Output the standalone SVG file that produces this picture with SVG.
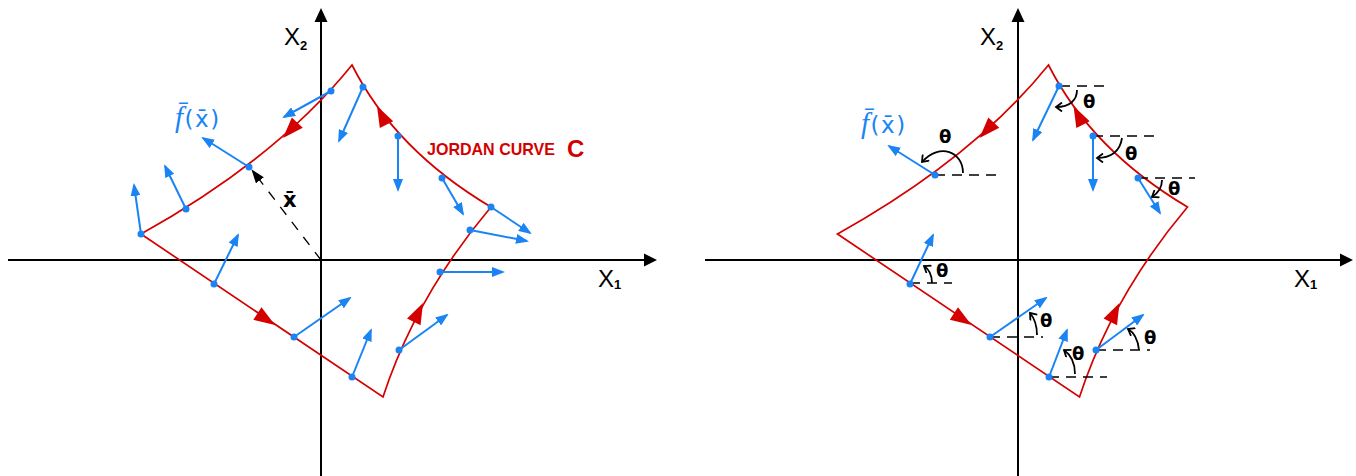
<svg xmlns="http://www.w3.org/2000/svg" xmlns:xlink="http://www.w3.org/1999/xlink" width="1356" height="476" viewBox="0 0 1356 476">
<style>
.axis{stroke:#000;stroke-width:2;fill:none}
.axhead{fill:#000}
.curve{stroke:#d40000;stroke-width:1.7;fill:none;stroke-linejoin:miter}
.redtri{fill:#d40000}
.vec{stroke:#1a84f4;stroke-width:2;fill:none;marker-end:url(#bh)}
.dot{fill:#1a84f4}
.ref{stroke:#000;stroke-width:1.3;stroke-dasharray:10 7;fill:none}
.arc{stroke:#000;stroke-width:1.8;fill:none;marker-end:url(#ch)}
.th{font-family:"DejaVu Sans",sans-serif;font-size:18px;font-weight:bold;fill:#000}
.axl{font-family:"Liberation Sans",Arial,sans-serif;font-size:24px;fill:#000}
.sub{font-size:13px;font-weight:bold}
.blbl{font-family:"DejaVu Sans",sans-serif;font-size:23px;fill:#1a84f4;letter-spacing:1.5px}
.fglyph{font-family:"Liberation Serif",serif;font-style:italic;font-size:29px}
.jordan{font-family:"Liberation Sans",Arial,sans-serif;font-weight:bold;font-size:17px;fill:#d40000}
.xbar{font-family:"DejaVu Sans",sans-serif;font-size:21px;font-weight:bold;fill:#000}
.xdash{stroke:#000;stroke-width:1.3;stroke-dasharray:10 9;fill:none;marker-end:url(#kh)}
</style>
<defs>
<marker id="bh" markerUnits="userSpaceOnUse" markerWidth="13" markerHeight="10" viewBox="0 0 13 10" refX="11" refY="5" orient="auto"><path d="M0,0 L13,5 L0,10 Z" fill="#1a84f4"/></marker>
<marker id="kh" markerUnits="userSpaceOnUse" markerWidth="14" markerHeight="10" viewBox="0 0 14 10" refX="13" refY="5" orient="auto"><path d="M0,0 L14,5 L0,10 Z" fill="#000"/></marker>
<marker id="ch" markerUnits="userSpaceOnUse" markerWidth="10" markerHeight="10" viewBox="-8 -5 10 10" refX="0" refY="0" orient="auto"><path d="M-6,-4.5 L0,0 L-6,4.5" fill="none" stroke="#000" stroke-width="1.8"/></marker>
<path id="rt" d="M0,0 L-21,-7.5 L-21,7.5 Z"/>
<path id="curveC" d="M352,65 Q277,158 141,234 L383,397 Q416,296 491,207 Q395,150 352,65 Z"/>
</defs>

<!-- LEFT PANEL -->
<g id="left-axes">
<line class="axis" x1="8" y1="260" x2="646" y2="260"/>
<path class="axhead" d="M657,260 L644,253.5 L644,266.5 Z"/>
<line class="axis" x1="321" y1="476" x2="321" y2="20"/>
<path class="axhead" d="M321,8 L314.5,22 L327.5,22 Z"/>
<text class="axl" x="284" y="45">X<tspan class="sub" dy="5">2</tspan></text>
<text class="axl" x="598" y="287">X<tspan class="sub" dy="2">1</tspan></text>
</g>

<g id="left-curve">
<use xlink:href="#curveC" class="curve"/>
<use xlink:href="#rt" class="redtri" transform="translate(283,138) rotate(133)"/>
<use xlink:href="#rt" class="redtri" transform="translate(275,325) rotate(33)"/>
<use xlink:href="#rt" class="redtri" transform="translate(423,303) rotate(-64)"/>
<use xlink:href="#rt" class="redtri" transform="translate(377,106) rotate(-117)"/>
<text class="jordan" x="427" y="155" textLength="128" lengthAdjust="spacingAndGlyphs">JORDAN CURVE</text>
<text class="jordan" x="567" y="157" style="font-size:24px">C</text>
</g>

<g id="left-connectors">
<line class="xdash" x1="321" y1="260" x2="252" y2="170"/>
<line class="vec" x1="331" y1="91" x2="284" y2="117"/>
<line class="vec" x1="363" y1="87" x2="339" y2="141"/>
<line class="vec" x1="398" y1="136" x2="398" y2="190"/>
<line class="vec" x1="442" y1="178" x2="463" y2="214"/>
<line class="vec" x1="491" y1="207" x2="530" y2="233"/>
<line class="vec" x1="470" y1="230" x2="527" y2="241"/>
<line class="vec" x1="440" y1="272" x2="503" y2="272"/>
<line class="vec" x1="399" y1="350" x2="447" y2="315"/>
<line class="vec" x1="352" y1="377" x2="371" y2="330"/>
<line class="vec" x1="294" y1="337" x2="350" y2="298"/>
<line class="vec" x1="214" y1="284" x2="238" y2="235"/>
<line class="vec" x1="186" y1="209" x2="165" y2="166"/>
<line class="vec" x1="141" y1="234" x2="134" y2="185"/>
<line class="vec" x1="249" y1="167" x2="203" y2="138"/>
</g>
<g id="left-dots">
<circle class="dot" cx="331" cy="91" r="3.5"/>
<circle class="dot" cx="363" cy="87" r="3.5"/>
<circle class="dot" cx="398" cy="136" r="3.5"/>
<circle class="dot" cx="442" cy="178" r="3.5"/>
<circle class="dot" cx="491" cy="207" r="3.5"/>
<circle class="dot" cx="470" cy="230" r="3.5"/>
<circle class="dot" cx="440" cy="272" r="3.5"/>
<circle class="dot" cx="399" cy="350" r="3.5"/>
<circle class="dot" cx="352" cy="377" r="3.5"/>
<circle class="dot" cx="294" cy="337" r="3.5"/>
<circle class="dot" cx="214" cy="284" r="3.5"/>
<circle class="dot" cx="186" cy="209" r="3.5"/>
<circle class="dot" cx="141" cy="234" r="3.5"/>
<circle class="dot" cx="249" cy="167" r="3.5"/>
</g>
<g id="left-labels">
<text class="blbl" x="175" y="127"><tspan class="fglyph">f̄</tspan>(x̄)</text>
<text class="xbar" x="283" y="207">x̄</text>
</g>

<!-- RIGHT PANEL -->
<g id="right-axes">
<line class="axis" x1="705" y1="260" x2="1342" y2="260"/>
<path class="axhead" d="M1353,260 L1340,253.5 L1340,266.5 Z"/>
<line class="axis" x1="1018" y1="476" x2="1018" y2="20"/>
<path class="axhead" d="M1018,8 L1011.5,22 L1024.5,22 Z"/>
<text class="axl" x="980" y="45">X<tspan class="sub" dy="5">2</tspan></text>
<text class="axl" x="1294" y="287">X<tspan class="sub" dy="2">1</tspan></text>
</g>

<g id="right-curve">
<use xlink:href="#curveC" class="curve" transform="translate(696.5,0)"/>
<use xlink:href="#rt" class="redtri" transform="translate(979.5,138) rotate(133)"/>
<use xlink:href="#rt" class="redtri" transform="translate(971.5,325) rotate(33)"/>
<use xlink:href="#rt" class="redtri" transform="translate(1119.5,303) rotate(-64)"/>
<use xlink:href="#rt" class="redtri" transform="translate(1073.5,106) rotate(-117)"/>
</g>

<g id="right-connectors">
<line class="ref" x1="1060" y1="86" x2="1105" y2="86"/>
<line class="ref" x1="1093" y1="136" x2="1160" y2="136"/>
<line class="ref" x1="1138" y1="178" x2="1195" y2="178"/>
<line class="ref" x1="935" y1="175" x2="1001" y2="175"/>
<line class="ref" x1="910" y1="283" x2="952" y2="283"/>
<line class="ref" x1="990" y1="337" x2="1043" y2="337"/>
<line class="ref" x1="1049" y1="377" x2="1107" y2="377"/>
<line class="ref" x1="1096" y1="350" x2="1150" y2="350"/>
<line class="vec" x1="1059" y1="86" x2="1033" y2="140"/>
<line class="vec" x1="1093" y1="136" x2="1093" y2="190"/>
<line class="vec" x1="1138" y1="178" x2="1160" y2="213"/>
<line class="vec" x1="935" y1="175" x2="889" y2="146"/>
<line class="vec" x1="910" y1="284" x2="933" y2="235"/>
<line class="vec" x1="990" y1="337" x2="1046" y2="298"/>
<line class="vec" x1="1049" y1="377" x2="1067" y2="330"/>
<line class="vec" x1="1096" y1="350" x2="1143" y2="315"/>
<path class="arc" d="M963,173 C963,152 940,142 922,162"/>
<path class="arc" d="M1077,90 C1077,100 1070,107 1056,107"/>
<path class="arc" d="M1122,138 C1120,152 1110,158 1097,158"/>
<path class="arc" d="M1162,180 C1162,187 1158,193 1152,197"/>
<path class="arc" d="M932,283 C932,275 930,270 924,266"/>
<path class="arc" d="M1037,335 C1037,325 1035,319 1030,313"/>
<path class="arc" d="M1075,374 C1075,362 1071,355 1064,350"/>
<path class="arc" d="M1139,350 C1138,340 1135,333 1128,329"/>
</g>
<g id="right-dots">
<circle class="dot" cx="1059" cy="86" r="3.5"/>
<circle class="dot" cx="1093" cy="136" r="3.5"/>
<circle class="dot" cx="1138" cy="178" r="3.5"/>
<circle class="dot" cx="935" cy="175" r="3.5"/>
<circle class="dot" cx="910" cy="284" r="3.5"/>
<circle class="dot" cx="990" cy="337" r="3.5"/>
<circle class="dot" cx="1049" cy="377" r="3.5"/>
<circle class="dot" cx="1096" cy="350" r="3.5"/>
</g>
<g id="right-labels">
<text class="blbl" x="861" y="133"><tspan class="fglyph">f̄</tspan>(x̄)</text>
<text class="th" x="939" y="143">θ</text>
<text class="th" x="1083" y="108">θ</text>
<text class="th" x="1125" y="160">θ</text>
<text class="th" x="1168" y="195">θ</text>
<text class="th" x="936" y="277">θ</text>
<text class="th" x="1040" y="327">θ</text>
<text class="th" x="1072" y="360">θ</text>
<text class="th" x="1144" y="344">θ</text>
</g>
</svg>
